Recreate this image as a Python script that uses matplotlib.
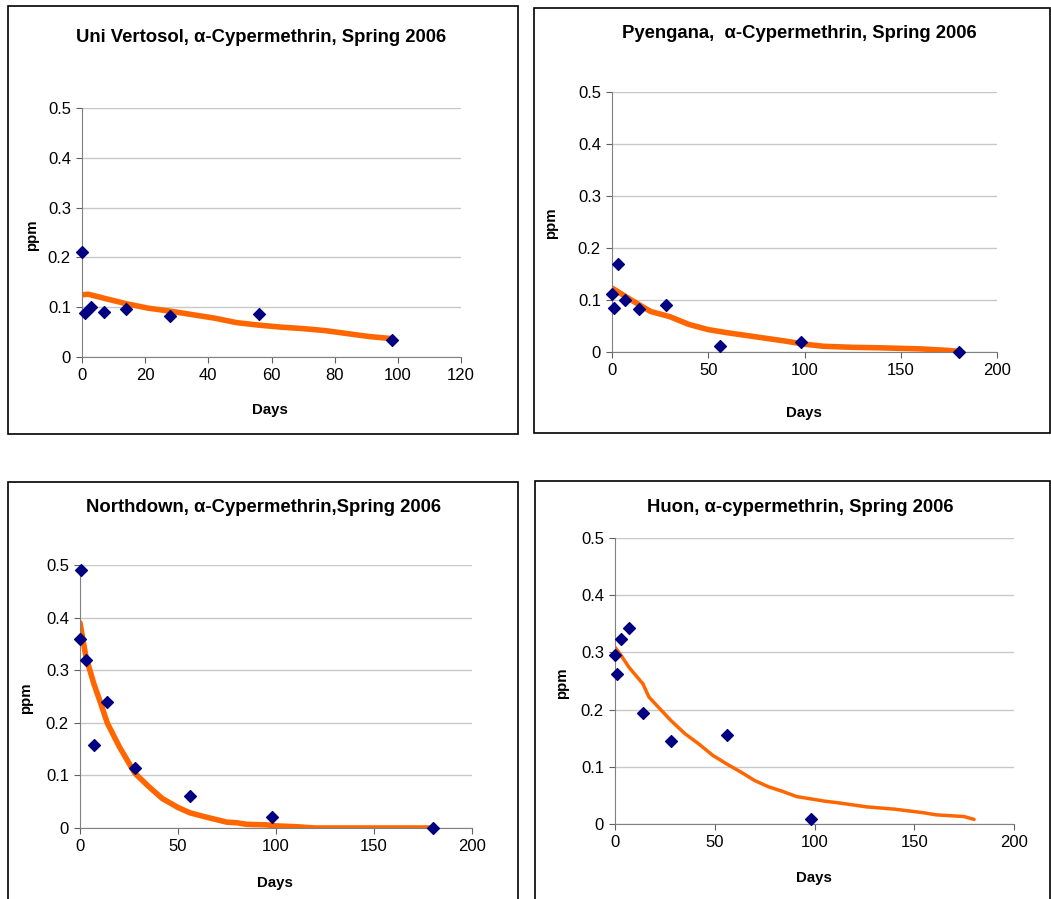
import numpy as np
import matplotlib
matplotlib.use("Agg")
import matplotlib.pyplot as plt
from matplotlib.patches import Rectangle

plt.rcParams['font.family'] = ['Liberation Sans', 'DejaVu Sans']

# measured residues (points) and fitted decay curves (lines)
uni_days = [0, 1, 3, 7, 14, 28, 56, 98]
uni_ppm = [0.21, 0.088, 0.1, 0.091, 0.097, 0.083, 0.086, 0.034]
uni_fit_days = [0, 2, 7, 14, 21, 28, 35, 42, 49, 56, 63, 70, 77, 84, 91, 98]
uni_fit_ppm = [0.125, 0.126, 0.118, 0.107, 0.098, 0.092, 0.085, 0.078, 0.069, 0.064, 0.06, 0.057, 0.053, 0.047, 0.041, 0.037]

pye_days = [0, 1, 3, 7, 14, 28, 56, 98, 180]
pye_ppm = [0.112, 0.085, 0.17, 0.1, 0.082, 0.091, 0.011, 0.02, 0.0]
pye_fit_days = [0, 10, 20, 30, 40, 50, 60, 75, 90, 100, 110, 125, 140, 160, 175, 180]
pye_fit_ppm = [0.123, 0.1, 0.078, 0.068, 0.053, 0.043, 0.037, 0.029, 0.021, 0.015, 0.011, 0.009, 0.008, 0.006, 0.003, 0.001]

nor_days = [0.5, 0, 3, 7, 14, 28, 56, 98, 180]
nor_ppm = [0.49, 0.36, 0.32, 0.158, 0.24, 0.115, 0.06, 0.02, 0.0]
nor_fit_days = [0, 3, 7, 10, 14, 20, 28, 35, 42, 50, 56, 63, 75, 80, 85, 95, 100, 110, 120, 180]
nor_fit_ppm = [0.39, 0.326, 0.275, 0.243, 0.199, 0.155, 0.104, 0.079, 0.056, 0.039, 0.029, 0.022, 0.011, 0.01, 0.007, 0.006, 0.004, 0.0025, 0.0, 0.0]

huo_days = [0, 1, 3, 7, 14, 28, 56, 98]
huo_ppm = [0.295, 0.263, 0.324, 0.342, 0.194, 0.145, 0.155, 0.008]
huo_fit_days = [0, 3, 7, 14, 17, 21, 28, 35, 42, 49, 56, 63, 70, 77, 84, 91, 98, 105, 112, 126, 140, 154, 161, 175, 180]
huo_fit_ppm = [0.309, 0.295, 0.274, 0.245, 0.222, 0.207, 0.181, 0.158, 0.14, 0.12, 0.105, 0.091, 0.076, 0.065, 0.057, 0.048, 0.044, 0.04, 0.037, 0.03, 0.026, 0.02, 0.016, 0.013, 0.008]

titles = ['Uni Vertosol, α-Cypermethrin, Spring 2006',
          'Pyengana,  α-Cypermethrin, Spring 2006',
          'Northdown, α-Cypermethrin,Spring 2006',
          'Huon, α-cypermethrin, Spring 2006']

W, H = 1051, 899
fig = plt.figure(figsize=(W / 100, H / 100), dpi=100)

def fx(px):
    return px / W

def fy(py):
    return 1 - py / H

# panel frames (pixel boxes: left, top, right, bottom)
frames = [(8, 6, 518, 434), (534, 8, 1050, 433), (8, 482, 518, 905), (535, 481, 1050, 905)]
for l, t, r, b in frames:
    fig.patches.append(Rectangle((fx(l), fy(b)), fx(r - l), (b - t) / H, transform=fig.transFigure,
                                 fill=False, edgecolor='black', linewidth=1.2))

# axes boxes (pixel: x0, x_end, y0 pixel, y_top pixel)
boxes = [(82, 461, 357, 108), (612, 997, 352, 92), (80, 472, 828, 565), (615, 1014, 824, 538)]
xmaxes = [120, 200, 200, 200]
xsteps = [20, 50, 50, 50]
data = [(uni_days, uni_ppm, uni_fit_days, uni_fit_ppm, 4),
        (pye_days, pye_ppm, pye_fit_days, pye_fit_ppm, 4),
        (nor_days, nor_ppm, nor_fit_days, nor_fit_ppm, 4),
        (huo_days, huo_ppm, huo_fit_days, huo_fit_ppm, 2.5)]
title_pos = [(261, 37), (799, 34), (264, 507), (800, 507)]
days_pos = [(270, 410), (804, 413), (275, 883), (814, 878)]
ppm_pos = [(32, 235), (551, 223), (26, 698), (562, 683)]

for i in range(4):
    x0, x1, yb, yt = boxes[i]
    ax = fig.add_axes([fx(x0), fy(yb), fx(x1 - x0), (yb - yt) / H])
    d, p, fd, fp, lw = data[i]
    ax.plot(fd, fp, color='#FF6600', linewidth=lw, zorder=2, solid_capstyle='round')
    ax.scatter(d, p, marker='D', s=36, color='#000080', zorder=3, clip_on=False)
    ax.set_xlim(0, xmaxes[i])
    ax.set_ylim(0, 0.5)
    ax.set_xticks(np.arange(0, xmaxes[i] + 1, xsteps[i]))
    ax.set_yticks([0, 0.1, 0.2, 0.3, 0.4, 0.5])
    ax.set_yticklabels(['0', '0.1', '0.2', '0.3', '0.4', '0.5'])
    ax.yaxis.grid(True, color='#c8c8c8', linewidth=1)
    ax.set_axisbelow(True)
    for s in ['top', 'right']:
        ax.spines[s].set_visible(False)
    for s in ['left', 'bottom']:
        ax.spines[s].set_color('#808080')
    ax.tick_params(direction='out', length=4, color='#606060', labelsize=12, pad=4)
    fig.text(fx(title_pos[i][0]), fy(title_pos[i][1]), titles[i], ha='center', va='center',
             fontsize=13.3, fontweight='bold')
    fig.text(fx(days_pos[i][0]), fy(days_pos[i][1]), 'Days', ha='center', va='center',
             fontsize=10.8, fontweight='bold')
    fig.text(fx(ppm_pos[i][0]), fy(ppm_pos[i][1]), 'ppm', ha='center', va='center',
             fontsize=10.8, fontweight='bold', rotation=90)

fig.savefig('out.png', dpi=100)
